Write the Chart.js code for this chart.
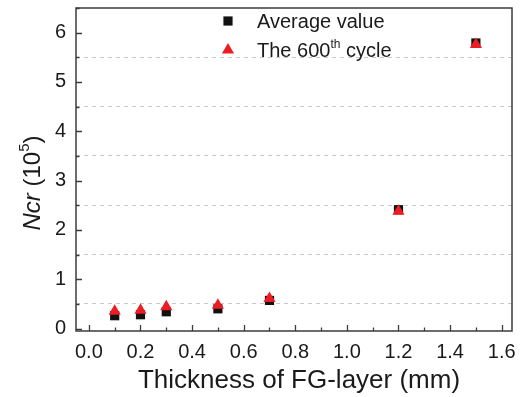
<!DOCTYPE html>
<html>
<head>
<meta charset="utf-8">
<script src="https://cdn.jsdelivr.net/npm/chart.js@4/dist/chart.umd.min.js"></script>
<style>
  html, body { margin: 0; padding: 0; background: #fff; }
  #wrap { width: 522px; height: 397px; }
</style>
</head>
<body>
<div id="wrap"><canvas id="myChart" width="522" height="397"></canvas></div>
<script>
// Données
const thickness = [0.1, 0.2, 0.3, 0.5, 0.7, 1.2, 1.5];
const averageValue = [0.26, 0.28, 0.34, 0.40, 0.57, 2.41, 5.79];
const cycle600 = [0.35, 0.37, 0.44, 0.47, 0.61, 2.38, 5.76];

const FONT = "'Liberation Sans', Arial, Helvetica, sans-serif";
const TEXT = '#1a1a1a';
const FRAME = '#3c3c3c';

function toPoints(xs, ys) {
    return xs.map((x, i) => ({ x: x, y: ys[i] }));
}

// Cadre, graduations intérieures, titres d'axes et légende
const decorations = {
    id: 'decorations',
    afterDraw(chart) {
        const ctx = chart.ctx;
        const area = chart.chartArea;
        const xs = chart.scales.x;
        const ys = chart.scales.y;
        ctx.save();

        // graduations vers l'intérieur
        ctx.strokeStyle = FRAME;
        ctx.lineWidth = 1.3;
        ctx.beginPath();
        xs.ticks.forEach(t => {
            const px = Math.round(xs.getPixelForValue(t.value)) + 0.5;
            const major = Math.round(t.value * 10) % 2 === 0;
            ctx.moveTo(px, area.bottom);
            ctx.lineTo(px, area.bottom - (major ? 6 : 3.5));
        });
        ys.ticks.forEach(t => {
            const py = Math.round(ys.getPixelForValue(t.value)) + 0.5;
            const major = Math.abs(t.value - Math.round(t.value)) < 1e-6;
            ctx.moveTo(area.left, py);
            ctx.lineTo(area.left + (major ? 6 : 3.5), py);
        });
        ctx.stroke();

        // cadre
        ctx.lineWidth = 1.5;
        ctx.strokeRect(area.left, area.top, area.right - area.left, area.bottom - area.top);

        // titre de l'axe X
        ctx.fillStyle = TEXT;
        ctx.font = '26px ' + FONT;
        ctx.textAlign = 'center';
        ctx.textBaseline = 'alphabetic';
        ctx.fillText('Thickness of FG-layer (mm)', 299, 388);

        // titre de l'axe Y : Ncr (10^5)
        ctx.save();
        ctx.translate(40, 183);
        ctx.rotate(-Math.PI / 2);
        const parts = [
            { t: 'Ncr', f: 'italic 24px ' + FONT, dy: 0 },
            { t: ' (10', f: '24px ' + FONT, dy: 0 },
            { t: '5', f: '15px ' + FONT, dy: -11 },
            { t: ')', f: '24px ' + FONT, dy: 0 }
        ];
        let total = 0;
        parts.forEach(p => { ctx.font = p.f; p.w = ctx.measureText(p.t).width; total += p.w; });
        let cx = -total / 2;
        ctx.textAlign = 'left';
        parts.forEach(p => {
            ctx.font = p.f;
            ctx.fillText(p.t, cx, p.dy);
            cx += p.w;
        });
        ctx.restore();

        // légende
        const legendItems = [
            { ds: chart.data.datasets[0], y: 21, parts: [{ t: 'Average value', f: '20px ' + FONT, dy: 0 }] },
            { ds: chart.data.datasets[1], y: 50, parts: [
                { t: 'The 600', f: '20px ' + FONT, dy: 0 },
                { t: 'th', f: '12px ' + FONT, dy: -9 },
                { t: ' cycle', f: '20px ' + FONT, dy: 0 }
            ] }
        ];
        legendItems.forEach(item => {
            ctx.fillStyle = item.ds.backgroundColor;
            Chart.helpers.drawPoint(ctx, {
                pointStyle: item.ds.pointStyle,
                radius: item.ds.pointRadius,
                rotation: 0,
                borderWidth: 0
            }, 228, item.y);
            ctx.fillStyle = TEXT;
            ctx.textAlign = 'left';
            ctx.textBaseline = 'alphabetic';
            let lx = 257;
            item.parts.forEach(p => {
                ctx.font = p.f;
                ctx.fillText(p.t, lx, item.y + 7 + p.dy);
                lx += ctx.measureText(p.t).width;
            });
        });

        ctx.restore();
    }
};

const ctx = document.getElementById('myChart').getContext('2d');
const myChart = new Chart(ctx, {
    type: 'scatter',
    data: {
        datasets: [
            {
                label: 'Average value',
                data: toPoints(thickness, averageValue),
                pointStyle: 'rect',
                pointRadius: 6.5,
                backgroundColor: '#111111',
                borderWidth: 0,
                order: 2
            },
            {
                label: 'The 600th cycle',
                data: toPoints(thickness, cycle600),
                pointStyle: 'triangle',
                pointRadius: 7,
                backgroundColor: '#ec1c24',
                borderWidth: 0,
                order: 1
            }
        ]
    },
    options: {
        responsive: false,
        animation: false,
        layout: { padding: { top: 8, right: 10, left: 0, bottom: 0 } },
        plugins: {
            legend: { display: false },
            title: { display: false },
            tooltip: { enabled: false }
        },
        scales: {
            x: {
                type: 'linear',
                min: -0.05,
                max: 1.64,
                border: { display: false },
                grid: { display: false, drawTicks: false },
                ticks: {
                    stepSize: 0.1,
                    includeBounds: false,
                    autoSkip: false,
                    maxRotation: 0,
                    padding: 9,
                    color: TEXT,
                    font: { family: FONT, size: 20 },
                    callback: function(value) {
                        return Math.round(value * 10) % 2 === 0 ? value.toFixed(1) : '';
                    }
                },
                afterFit: function(scale) {
                    scale.height = 66;
                    scale.paddingLeft = 0;
                    scale.paddingRight = 0;
                }
            },
            y: {
                type: 'linear',
                min: -0.05,
                max: 6.5,
                border: { display: false, dash: [4, 4] },
                grid: {
                    drawTicks: false,
                    lineWidth: 1,
                    color: function(context) {
                        const v = context.tick ? context.tick.value : 0;
                        const half = Math.abs(v - Math.round(v)) > 1e-6;
                        return half && v < 6.4 ? '#c8c8c8' : 'rgba(0,0,0,0)';
                    }
                },
                ticks: {
                    stepSize: 0.5,
                    includeBounds: false,
                    autoSkip: false,
                    padding: 10,
                    color: TEXT,
                    font: { family: FONT, size: 20 },
                    callback: function(value) {
                        return Math.abs(value - Math.round(value)) < 1e-6 ? String(Math.round(value)) : '';
                    }
                },
                afterFit: function(scale) {
                    scale.width = 76;
                    scale.paddingTop = 0;
                    scale.paddingBottom = 0;
                }
            }
        }
    },
    plugins: [decorations]
});
</script>
</body>
</html>
